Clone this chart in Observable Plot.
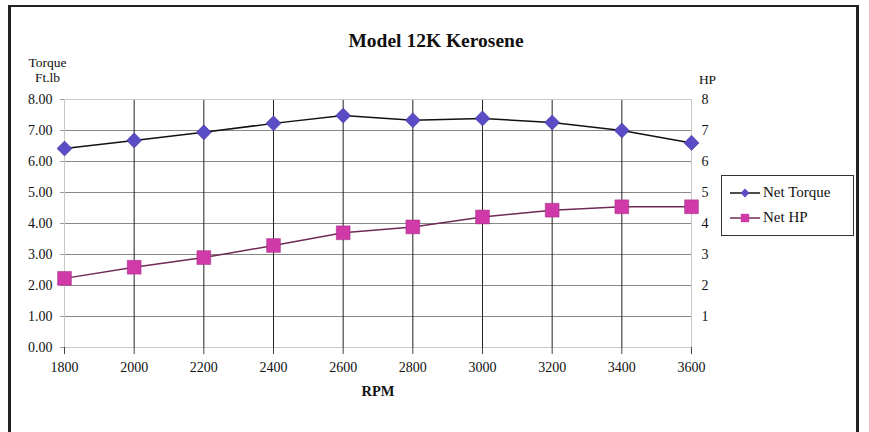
<!DOCTYPE html>
<html>
<head>
<meta charset="utf-8">
<script src="https://cdn.jsdelivr.net/npm/d3@7"></script>
<script src="https://cdn.jsdelivr.net/npm/@observablehq/plot@0.6"></script>
<style>
  html, body { margin: 0; padding: 0; background: #fff; overflow: hidden; }
  #wrap { position: relative; width: 869px; height: 432px; font-family: "Liberation Serif", serif; }
  #chart svg, #chart svg text { font-family: "Liberation Serif", serif !important; }
  #frame { position: absolute; left: 8px; top: 5px; width: 851px; height: 460px; border: 3px solid #222; border-top-width: 2px; border-bottom: none; box-sizing: border-box; }
  #legend { position: absolute; left: 721px; top: 175px; width: 133px; height: 61px; border: 1.5px solid #333; box-sizing: border-box; background: #fff; font-size: 15px; font-family: "Liberation Serif", serif; color: #111; }
  .lg { position: absolute; left: 8px; display: flex; align-items: center; }
  .lg svg { margin-right: 3px; }
  #chart { position: absolute; left: 0; top: 0; }
</style>
</head>
<body>
<div id="wrap">
  <div id="chart"></div>
  <div id="frame"></div>
  <div id="legend"></div>
</div>
<script>
const rpm = [1800, 2000, 2200, 2400, 2600, 2800, 3000, 3200, 3400, 3600];
const netTorque = [6.42, 6.68, 6.94, 7.23, 7.48, 7.33, 7.39, 7.26, 7.00, 6.60];
const netHP = [2.23, 2.59, 2.90, 3.29, 3.70, 3.89, 4.21, 4.43, 4.54, 4.54];
const leftTicks = [0, 1, 2, 3, 4, 5, 6, 7, 8];
const rightTicks = [1, 2, 3, 4, 5, 6, 7, 8];
const seriesNames = ["Net Torque", "Net HP"];
const title = "Model 12K Kerosene";

const torqueData = rpm.map((r, i) => ({rpm: r, v: netTorque[i]}));
const hpData = rpm.map((r, i) => ({rpm: r, v: netHP[i]}));

const torqueColor = "#5a4cc4";
const hpColor = "#d03aa8";
const hpLine = "#6e2a55";
const serif = "Liberation Serif";

const chart = Plot.plot({
  width: 869,
  height: 432,
  marginLeft: 64,
  marginRight: 178,
  marginTop: 99,
  marginBottom: 85,
  style: {fontFamily: serif, fontSize: "14px", color: "#111", background: "transparent"},
  x: {domain: [1800, 3600], ticks: rpm, label: null},
  y: {domain: [0, 8], label: null},
  marks: [
    Plot.gridY(leftTicks, {stroke: "#888", strokeOpacity: 1, strokeWidth: 1}),
    Plot.gridX(rpm.slice(1, -1), {stroke: "#222", strokeOpacity: 1, strokeWidth: 1}),
    Plot.frame({stroke: "#c8c8c8"}),
    Plot.axisY(leftTicks, {anchor: "left", tickFormat: d => d.toFixed(2), tickSize: 4, tickPadding: 8, stroke: "#999", fontSize: 14, fontFamily: serif}),
    Plot.axisY(rightTicks, {anchor: "right", tickFormat: d => String(d), tickSize: 0, tickPadding: 10, fontSize: 14, fontFamily: serif}),
    Plot.axisX(rpm, {anchor: "bottom", tickFormat: d => String(d), tickSize: 7, tickPadding: 8, stroke: "#444", fontSize: 14, fontFamily: serif}),
    Plot.line(torqueData, {x: "rpm", y: "v", stroke: "#111", strokeWidth: 1.5}),
    Plot.line(hpData, {x: "rpm", y: "v", stroke: hpLine, strokeWidth: 1.5}),
    Plot.dot(torqueData, {x: "rpm", y: "v", symbol: "diamond2", r: 6.8, fill: torqueColor, stroke: "#3a3090", strokeWidth: 0.5}),
    Plot.dot(hpData, {x: "rpm", y: "v", symbol: "square", r: 7.8, fill: hpColor, stroke: "#a02a80", strokeWidth: 0.5}),
    Plot.text([title], {frameAnchor: "top", dx: 58, dy: -66, text: d => d, fontSize: 19.5, fontWeight: "bold", fontFamily: serif}),
    Plot.text(["Torque"], {frameAnchor: "top-left", dx: -17, dy: -42, text: d => d, fontSize: 13.5, textAnchor: "middle", fontFamily: serif}),
    Plot.text(["Ft.lb"], {frameAnchor: "top-left", dx: -17, dy: -27, text: d => d, fontSize: 13.5, textAnchor: "middle", fontFamily: serif}),
    Plot.text(["HP"], {frameAnchor: "top-right", dx: 16, dy: -25, text: d => d, fontSize: 13.5, textAnchor: "middle", fontFamily: serif}),
    Plot.text(["RPM"], {frameAnchor: "bottom", dy: 48, text: d => d, fontSize: 14.5, fontWeight: "bold", fontFamily: serif})
  ]
});
document.getElementById("chart").appendChild(chart);

// Legend
const legend = document.getElementById("legend");
const legendSpecs = [
  {name: seriesNames[0], line: "#111", fill: torqueColor, symbol: d3.symbolDiamond2, size: 50, top: 8},
  {name: seriesNames[1], line: hpLine, fill: hpColor, symbol: d3.symbolSquare, size: 70, top: 33}
];
legendSpecs.forEach(s => {
  const row = document.createElement("div");
  row.className = "lg";
  row.style.top = s.top + "px";
  const svg = d3.create("svg").attr("width", 30).attr("height", 16);
  svg.append("line").attr("x1", 0).attr("x2", 30).attr("y1", 8).attr("y2", 8).attr("stroke", s.line).attr("stroke-width", 1.5);
  svg.append("path").attr("transform", "translate(15,8)").attr("d", d3.symbol(s.symbol, s.size)()).attr("fill", s.fill);
  row.appendChild(svg.node());
  const span = document.createElement("span");
  span.textContent = s.name;
  row.appendChild(span);
  legend.appendChild(row);
});
</script>
</body>
</html>
